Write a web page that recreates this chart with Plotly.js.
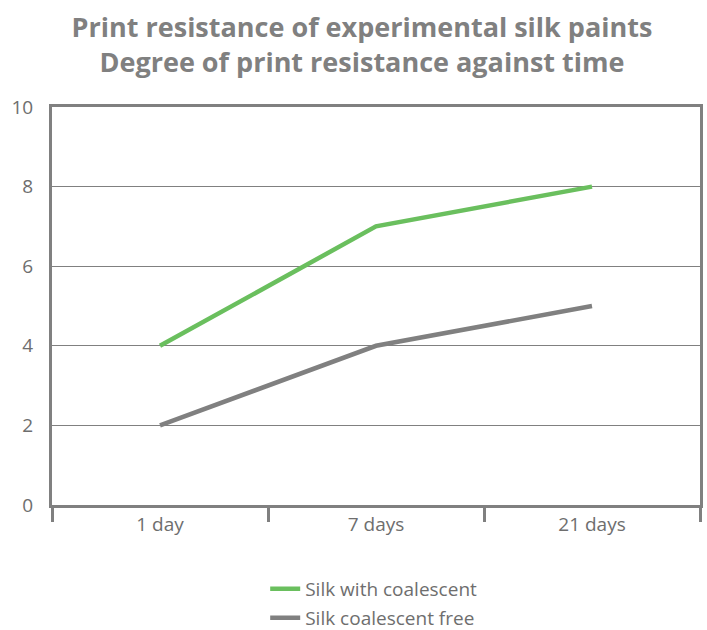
<!DOCTYPE html>
<html>
<head>
<meta charset="utf-8">
<script src="https://cdn.plot.ly/plotly-3.0.1.min.js"></script>
<style>html,body{margin:0;padding:0;background:#fff;}#chart{width:707px;height:630px;}</style>
</head>
<body>
<div id="chart"></div>
<script>
const categories = ["1 day", "7 days", "21 days"];
const withCoalescent = [4, 7, 8];
const coalescentFree = [2, 4, 5];
const seriesNames = ["Silk with coalescent", "Silk coalescent free"];
const yTicks = [0, 2, 4, 6, 8, 10];

const FONT = "Open Sans, sans-serif";
const GRAY = "#808080";
const TXT = "#6e6e6e";

const traces = [
  {x: categories, y: withCoalescent, name: seriesNames[0], type: "scatter", mode: "lines",
   line: {color: "#6abf5e", width: 4.5}, legend: "legend"},
  {x: categories, y: coalescentFree, name: seriesNames[1], type: "scatter", mode: "lines",
   line: {color: GRAY, width: 4.5}, legend: "legend2"}
];

const legendCommon = {
  orientation: "v", xanchor: "left", yanchor: "middle", xref: "paper", yref: "container",
  font: {family: FONT, size: 19, color: TXT}, bgcolor: "rgba(0,0,0,0)", borderwidth: 0
};

const layout = {
  width: 707, height: 630,
  margin: {l: 52, r: 7, t: 107, b: 125},
  paper_bgcolor: "#fff", plot_bgcolor: "#fff",
  title: {
    text: "<b>Print resistance of experimental silk paints<br>Degree of print resistance against time</b>",
    font: {family: FONT, size: 27, color: GRAY},
    x: 0.512, xanchor: "center", y: 0.942, yanchor: "top", yref: "container"
  },
  showlegend: true,
  legend: Object.assign({}, legendCommon, {x: 0.329, y: 1 - 589 / 630}),
  legend2: Object.assign({}, legendCommon, {x: 0.329, y: 1 - 618 / 630}),
  xaxis: {
    type: "category", range: [-0.5, 2.5],
    showline: true, linecolor: GRAY, linewidth: 3, mirror: true,
    ticks: "outside", tickson: "boundaries", ticklen: 14, tickwidth: 3, tickcolor: GRAY,
    showgrid: false, zeroline: false,
    tickfont: {family: FONT, size: 19, color: TXT}
  },
  yaxis: {
    range: [0, 10], tickvals: yTicks, ticktext: yTicks.map(String),
    showline: true, linecolor: GRAY, linewidth: 3, mirror: true,
    showgrid: true, gridcolor: GRAY, gridwidth: 1, zeroline: false,
    ticks: "", ticklabelstandoff: 12,
    tickfont: {family: FONT, size: 19, color: TXT}
  }
};

Plotly.newPlot("chart", traces, layout, {displayModeBar: false, staticPlot: true});
</script>
</body>
</html>
